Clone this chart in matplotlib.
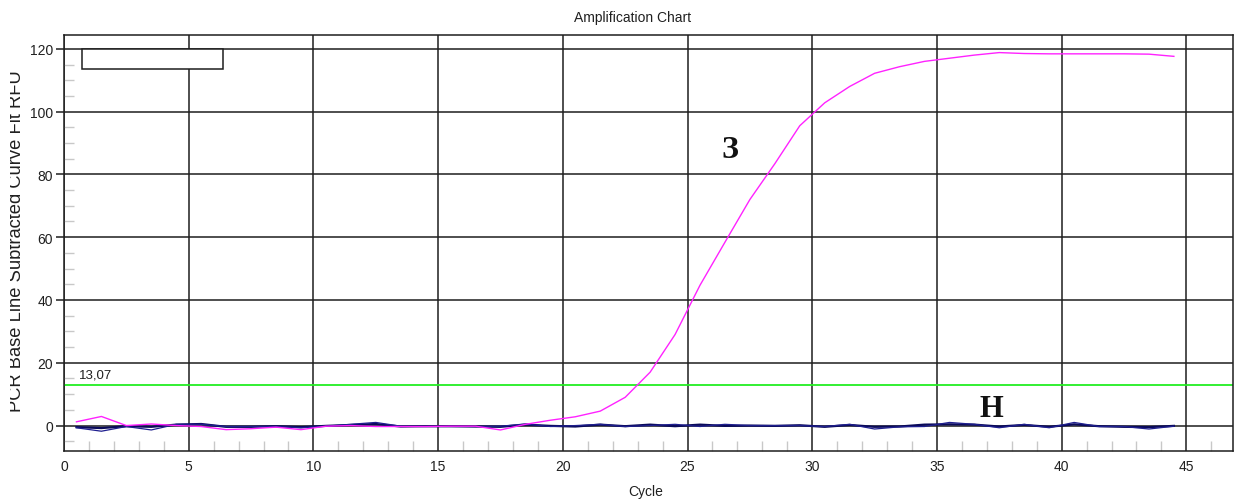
import matplotlib
matplotlib.use("Agg")
import matplotlib.pyplot as plt
from matplotlib.patches import Rectangle
import numpy as np

plt.rcParams["font.family"] = ["Liberation Sans", "DejaVu Sans"]

# cycle positions as drawn by the instrument software (cycle n at n - 0.5)
cycles = np.arange(1, 46) - 0.5

# positive sample ("З")
rfu_pos = [1.2, 2.9, 0.0, 0.5, 0.0, -0.3, -1.3, -1.0, -0.5, -1.3,
           -0.2, 0.0, -0.3, -0.3, -0.3, -0.2, -0.2, -1.4, 0.4, 1.7,
           2.8, 4.6, 9.0, 17.0, 29.0, 44.7, 58.4, 72.0, 83.4, 95.5,
           102.8, 108.0, 112.2, 114.3, 116.0, 117.0, 118.0, 118.8, 118.5, 118.4,
           118.4, 118.4, 118.4, 118.3, 117.6]

# negative samples ("Н")
rfu_neg1 = [-0.7, -1.8, -0.3, -1.4, 0.4, 0.4, -0.3, -0.3, -0.3, -0.7,
            -0.2, 0.4, 1.0, -0.2, -0.3, -0.3, -0.3, -0.2, 0.5, -0.3,
            0.0, 0.4, -0.3, 0.0, 0.4, -0.3, 0.4, 0.0, 0.0, 0.0,
            -0.3, 0.4, -1.1, -0.4, -0.3, 1.0, 0.4, -0.7, 0.4, -0.7,
            1.0, -0.3, -0.3, -1.1, -0.2]
rfu_neg2 = [-0.5, -0.8, -0.2, -0.4, 0.3, 0.5, -0.4, -0.4, -0.2, -0.5,
            -0.1, 0.2, 0.5, -0.3, -0.2, -0.2, -0.3, -0.4, 0.3, -0.1,
            -0.3, 0.3, -0.2, 0.3, -0.2, 0.3, -0.1, 0.0, -0.1, 0.1,
            -0.4, 0.2, -0.4, -0.3, 0.3, 0.4, 0.3, -0.3, 0.2, -0.4,
            0.4, -0.2, -0.4, -0.5, -0.1]

threshold = 13.07
threshold_label = "13,07"

fig = plt.figure(figsize=(12.36, 5.02), dpi=100)
ax = fig.add_axes([64 / 1236, 1 - 452 / 502, (1233 - 64) / 1236, (452 - 36) / 502])

ax.set_xlim(0, 46.87)
ax.set_ylim(-8.1, 124.4)

ax.set_xticks(range(0, 46, 5))
ax.set_xticks(range(0, 47), minor=True)
ax.set_yticks(range(0, 121, 20))
ax.set_yticks(range(-5, 125, 5), minor=True)

ax.grid(True, which="major", color="#1e1e1e", linewidth=1.1, zorder=1)
for s in ax.spines.values():
    s.set_color("#1e1e1e")
    s.set_linewidth(1.1)

ax.tick_params(axis="x", which="major", length=0, pad=6, labelsize=10)
ax.tick_params(axis="y", which="major", direction="out", length=6, width=1.1,
               color="#1e1e1e", pad=2, labelsize=10)
ax.tick_params(axis="both", which="minor", direction="in", length=7, width=1,
               color="#c8c8c8")
for lbl in ax.get_xticklabels() + ax.get_yticklabels():
    lbl.set_color("#202020")

ax.axhline(threshold, color="#22ee22", linewidth=1.3, zorder=2)
ax.text(0.6, threshold + 1.2, threshold_label, fontsize=9.5, color="#202020",
        ha="left", va="bottom")

ax.plot(cycles, rfu_neg2, color="#0a0a5a", linewidth=1.6, zorder=3)
ax.plot(cycles, rfu_neg1, color="#1f1f8f", linewidth=0.9, zorder=3)
ax.plot(cycles, rfu_pos, color="#ff22ff", linewidth=1.0, zorder=4)

serif = ["Liberation Serif", "DejaVu Serif"]
ax.text(26.7, 88, "З", family=serif, fontweight="bold", fontsize=23,
        ha="center", va="center", color="#111111")
ax.text(37.2, 5.3, "Н", family=serif, fontweight="bold", fontsize=22,
        ha="center", va="center", color="#111111")

# empty legend box in the upper left corner
ax.add_patch(Rectangle((0.72, 113.5), 5.66, 6.5, facecolor="white",
                       edgecolor="#1e1e1e", linewidth=1.1, zorder=5))

fig.text(633 / 1236, 1 - 18 / 502, "Amplification Chart", fontsize=10,
         ha="center", va="center", color="#202020")
fig.text(646 / 1236, 1 - 492 / 502, "Cycle", fontsize=10,
         ha="center", va="center", color="#202020")
fig.text(21 / 1236, 1 - 241.5 / 502, "PCR Base Line Subtracted Curve Fit RFU",
         fontsize=13.2, rotation=90, rotation_mode="anchor",
         ha="center", va="baseline", color="#202020")

# the original window clips the left strip of the y label
fig.patches.append(Rectangle((0, 0), 10 / 1236, 1, transform=fig.transFigure,
                             facecolor="white", edgecolor="none", zorder=10))

fig.savefig("out.png", dpi=100)
